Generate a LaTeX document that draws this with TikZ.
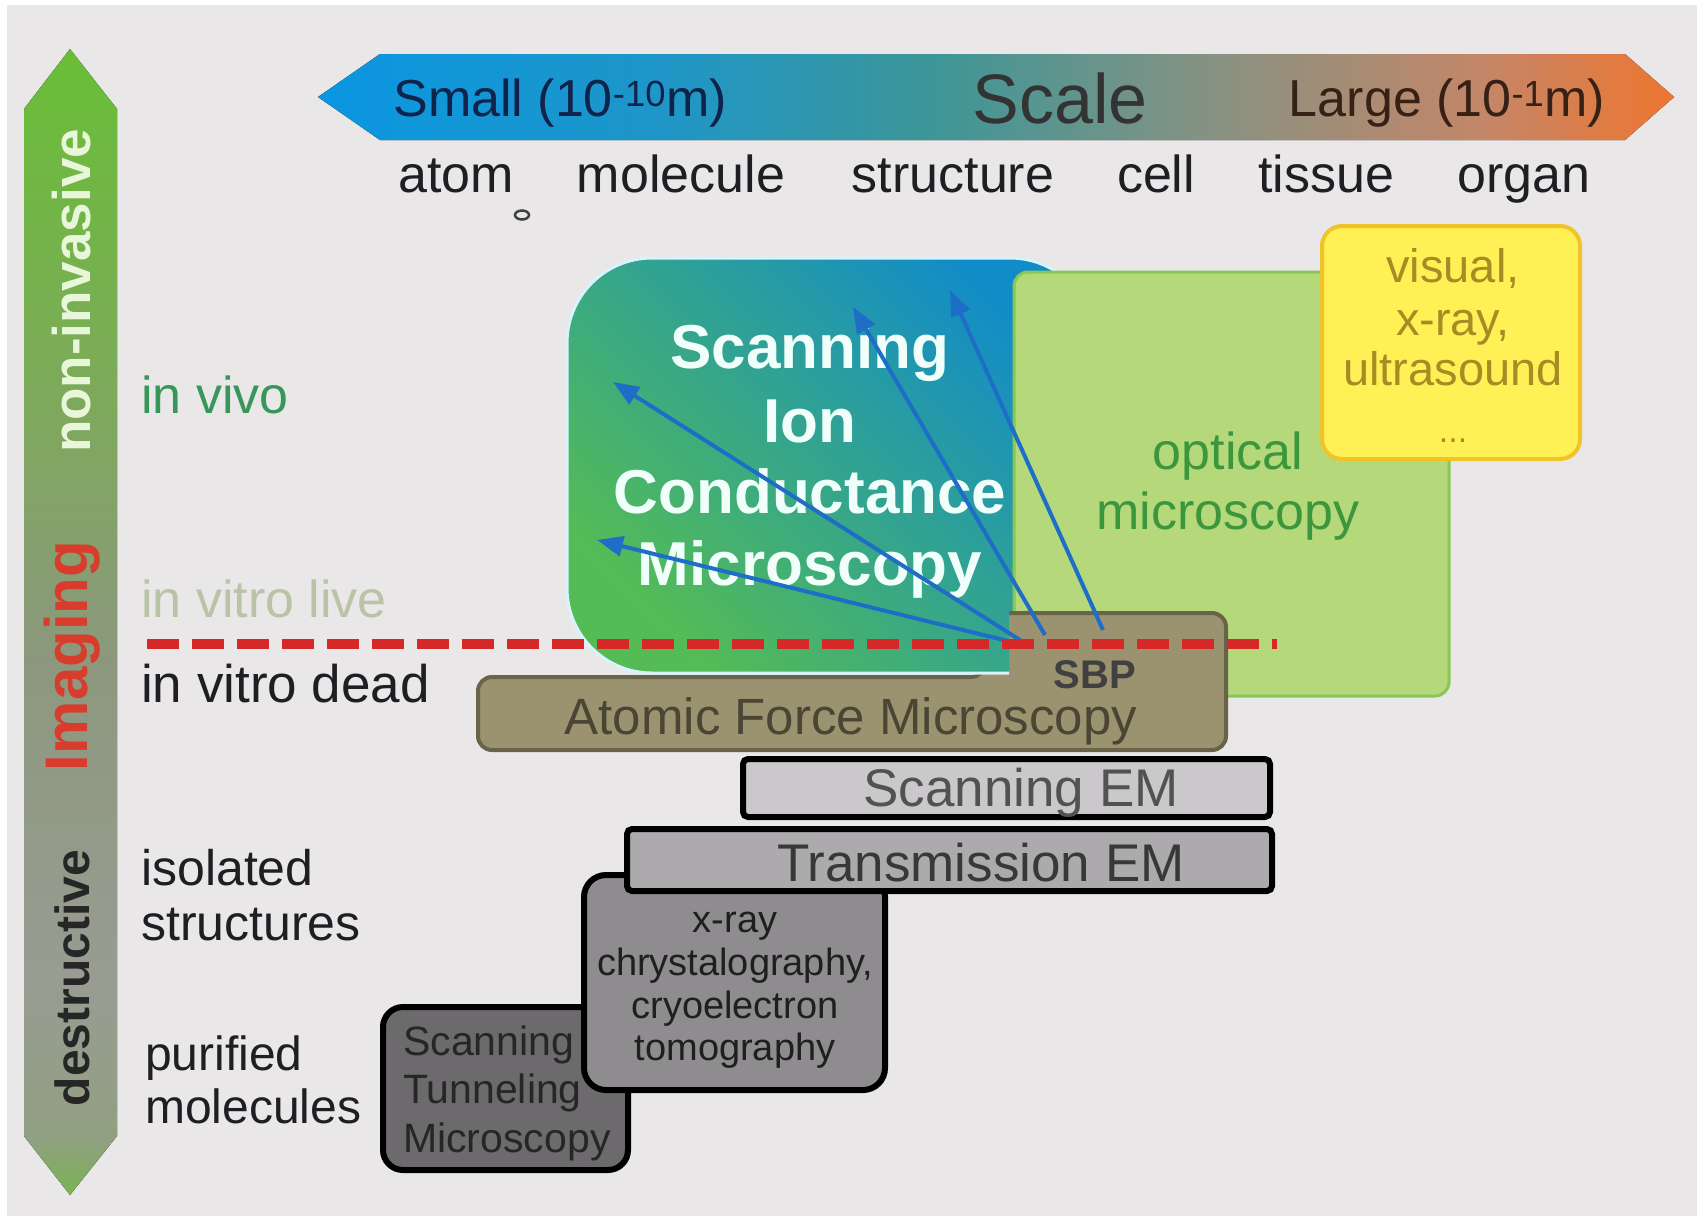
\documentclass[tikz,border=0pt]{standalone}
\usepackage{fontspec}
\setmainfont{Liberation Sans}
\usetikzlibrary{arrows.meta}
\definecolor{bgc}{RGB}{234,231,232}
\definecolor{sc0}{RGB}{10,150,225}
\definecolor{sc1}{RGB}{30,150,200}
\definecolor{sc2}{RGB}{60,150,152}
\definecolor{sc3}{RGB}{135,146,130}
\definecolor{sc4}{RGB}{196,134,104}
\definecolor{sc5}{RGB}{238,118,48}
\definecolor{sd0}{RGB}{120,180,80}
\definecolor{sd1}{RGB}{145,160,130}
\definecolor{sd2}{RGB}{152,156,146}
\definecolor{sd3}{RGB}{140,152,125}
\definecolor{sd4}{RGB}{125,170,90}
\definecolor{sd5}{RGB}{105,190,55}
\definecolor{sicmblue}{RGB}{18,140,200}
\definecolor{sicmteal}{RGB}{30,160,150}
\definecolor{sicmgreen}{RGB}{85,188,85}
\definecolor{sicmtext}{RGB}{240,255,250}
\definecolor{optfill}{RGB}{180,216,122}
\definecolor{optdraw}{RGB}{135,200,85}
\definecolor{opttext}{RGB}{60,150,60}
\definecolor{yfill}{RGB}{255,240,85}
\definecolor{ydraw}{RGB}{240,195,40}
\definecolor{ytext}{RGB}{165,140,35}
\definecolor{afmfill}{RGB}{155,146,112}
\definecolor{afmdraw}{RGB}{105,100,72}
\definecolor{afmtext}{RGB}{75,70,52}
\definecolor{semfill}{RGB}{202,200,202}
\definecolor{temfill}{RGB}{172,170,172}
\definecolor{xfill}{RGB}{142,140,142}
\definecolor{stmfill}{RGB}{108,106,108}
\definecolor{probeblue}{RGB}{30,110,200}
\definecolor{dashred}{RGB}{215,40,40}
\definecolor{vivo}{RGB}{55,150,90}
\definecolor{vitrolive}{RGB}{185,195,165}
\definecolor{darktext}{RGB}{30,30,35}
\definecolor{smalltext}{RGB}{15,35,75}
\definecolor{largetext}{RGB}{55,32,22}
\definecolor{noninv}{RGB}{232,246,218}
\definecolor{imgred}{RGB}{215,60,45}
\pgfdeclarehorizontalshading{scaleshade}{100bp}{color(0bp)=(sc0); color(25bp)=(sc0); color(37.5bp)=(sc1); color(47.5bp)=(sc2); color(58bp)=(sc3); color(68bp)=(sc4); color(75bp)=(sc5); color(100bp)=(sc5)}
\pgfdeclareverticalshading{sideshade}{100bp}{color(0bp)=(sd0); color(25bp)=(sd0); color(27.5bp)=(sd1); color(34.5bp)=(sd2); color(48.5bp)=(sd3); color(60bp)=(sd4); color(75bp)=(sd5); color(100bp)=(sd5)}
\newcommand\myfs[1]{\fontsize{#1}{#1}\selectfont}
\tikzset{
  lbl/.style={inner sep=0pt, font=\myfs{52}, text=darktext},
  sicmshape/.style={top color=sicmblue, middle color=sicmteal, bottom color=sicmgreen, shading angle=-45},
  sicmtxt/.style={inner sep=0pt, anchor=base, font=\bfseries\myfs{62}, text=sicmtext},
  optbox/.style={fill=optfill, draw=optdraw, line width=3, rounded corners=14},
  ybox/.style={fill=yfill, draw=ydraw, line width=4, rounded corners=20},
  afmbox/.style={fill=afmfill, draw=afmdraw, line width=4, rounded corners=14},
  grbox/.style={draw=black, line width=6, rounded corners=5},
  probe/.style={draw=probeblue, line width=4, -{Triangle[length=26pt,width=20pt]}},
  reddash/.style={draw=dashred, line width=10, dash pattern=on 32pt off 13pt},
}
\begin{document}
\begin{tikzpicture}[x=1pt,y=-1pt]
\useasboundingbox (0,0) rectangle (1704,1221);
\fill[white] (0,0) rectangle (1704,1221);
\fill[bgc] (7,5) rectangle (1697,1216);
% top scale arrow
\fill[shading=scaleshade] (318,97) -- (380,54) -- (1625,54) -- (1674,97) -- (1625,140) -- (380,140) -- cycle;
\node[lbl, anchor=base, text=smalltext] (small) at (560,116) {Small (10\textsuperscript{-10}m)};
\node[lbl, anchor=base, font=\myfs{70}, text=black!80] (scale) at (1060,123) {Scale};
\node[lbl, anchor=base, text=largetext] (large) at (1447,116) {Large (10\textsuperscript{-1}m)};
\node[lbl, anchor=base] (atom) at (456,192) {atom};
\node[lbl, anchor=base] (molecule) at (681,192) {molecule};
\node[lbl, anchor=base] (structure) at (953,192) {structure};
\node[lbl, anchor=base] (cell) at (1156,192) {cell};
\node[lbl, anchor=base] (tissue) at (1326,192) {tissue};
\node[lbl, anchor=base] (organ) at (1524,192) {organ};
\draw[line width=2.5, black!75] (522,215) ellipse [x radius=7, y radius=4.5];
% left vertical arrow
\fill[shading=sideshade] (70,49) -- (117,109) -- (117,1136) -- (70,1195) -- (24,1136) -- (24,109) -- cycle;
\node[lbl, rotate=90, font=\bfseries\myfs{53}, text=noninv] (noninvasive) at (72,291) {non-invasive};
\node[lbl, rotate=90, font=\bfseries\myfs{60}, text=imgred] (imaging) at (72,656) {Imaging};
\node[lbl, rotate=90, font=\bfseries\myfs{48}, text=black!85] (destructive) at (72,978) {destructive};
% left labels
\node[lbl, anchor=base west, text=vivo] (invivo) at (141,413) {in vivo};
\node[lbl, anchor=base west, text=vitrolive] (invitrolive) at (141,617) {in vitro live};
\node[lbl, anchor=base west, font=\myfs{53}] (invitrodead) at (141,702) {in vitro dead};
\node[lbl, anchor=base west, font=\myfs{50}] (isolated) at (141,885) {isolated};
\node[lbl, anchor=base west, font=\myfs{50}] (structures) at (141,940) {structures};
\node[lbl, anchor=base west, font=\myfs{48}] (purified) at (145,1070) {purified};
\node[lbl, anchor=base west, font=\myfs{48}] (molecules) at (145,1123) {molecules};
% SICM (back)
\path[sicmshape, rounded corners=85] (567,258) rectangle (1095,673);
\draw[white!85!cyan, line width=3, rounded corners=85] (567,258) rectangle (1095,673);
% optical
\path[optbox] (1014,272) rectangle (1449,696);
\node[lbl, anchor=base, text=opttext] (optical) at (1228,469) {optical};
\node[lbl, anchor=base, text=opttext] (opticalmic) at (1228,529) {microscopy};
% yellow
\path[ybox] (1322,226) rectangle (1580,459);
\node[lbl, anchor=base, font=\myfs{47}, text=ytext] (visual) at (1453,282) {visual,};
\node[lbl, anchor=base, font=\myfs{47}, text=ytext] (xray1) at (1453,335) {x-ray,};
\node[lbl, anchor=base, font=\myfs{47}, text=ytext] (ultra) at (1453,385) {ultrasound};
\node[lbl, anchor=base, font=\myfs{34}, text=ytext] (dots) at (1453,442) {...};
% AFM
\path[afmbox] (478,677) -- (985,677) -- (985,613) -- (1226,613) -- (1226,750) -- (478,750) -- cycle;
\node[lbl, anchor=base, font=\myfs{51}, text=afmtext] (afm) at (851,734) {Atomic Force Microscopy};
\node[lbl, anchor=base, font=\bfseries\myfs{40}, text=black!75] (sbp) at (1095,688) {SBP};
% SICM (front part over AFM)
\begin{scope}
\clip (540,560) rectangle (1009,700);
\path[sicmshape, rounded corners=85] (567,258) rectangle (1095,673);
\draw[white!85!cyan, line width=3, rounded corners=85] (567,258) rectangle (1095,673);
\end{scope}
\node[sicmtxt] (sicm1) at (810,368) {Scanning};
\node[sicmtxt] (sicm2) at (810,442) {Ion};
\node[sicmtxt] (sicm3) at (810,513) {Conductance};
\node[sicmtxt] (sicm4) at (810,585) {Microscopy};
% probe arrows
\coordinate (p1s) at (1020,640); \coordinate (p1e) at (613,382);
\coordinate (p2s) at (1012,642); \coordinate (p2e) at (597,540);
\coordinate (p3s) at (1045,635); \coordinate (p3e) at (853,307);
\coordinate (p4s) at (1103,630); \coordinate (p4e) at (950,290);
\draw[probe] (p1s) -- (p1e);
\draw[probe] (p2s) -- (p2e);
\draw[probe] (p3s) -- (p3e);
\draw[probe] (p4s) -- (p4e);
% dashed boundary
\coordinate (dl) at (147,644); \coordinate (dr) at (1277,644);
\draw[reddash] (dl) -- (dr);
% EM and others
\path[grbox, fill=stmfill, rounded corners=20] (383,1007) rectangle (628,1170);
\node[lbl, anchor=base west, font=\myfs{41}, text=black!85] (stm1) at (403,1055) {Scanning};
\node[lbl, anchor=base west, font=\myfs{41}, text=black!85] (stm2) at (403,1103) {Tunneling};
\node[lbl, anchor=base west, font=\myfs{41}, text=black!85] (stm3) at (403,1152) {Microscopy};
\path[grbox, fill=xfill, rounded corners=22] (584,875) rectangle (885,1090);
\node[lbl, anchor=base, font=\myfs{38}, text=black!88] (xr1) at (735,932) {x-ray};
\node[lbl, anchor=base, font=\myfs{38}, text=black!88] (xr2) at (735,975) {chrystalography,};
\node[lbl, anchor=base, font=\myfs{38}, text=black!88] (xr3) at (735,1018) {cryoelectron};
\node[lbl, anchor=base, font=\myfs{38}, text=black!88] (xr4) at (735,1060) {tomography};
\path[grbox, fill=temfill] (627,829) rectangle (1272,891);
\node[lbl, anchor=base, font=\myfs{53}, text=black!78] (tem) at (981,881) {Transmission EM};
\path[grbox, fill=semfill] (743,759) rectangle (1270,817);
\node[lbl, anchor=base, font=\myfs{53}, text=black!68] (sem) at (1021,806) {Scanning EM};
\end{tikzpicture}
\end{document}
